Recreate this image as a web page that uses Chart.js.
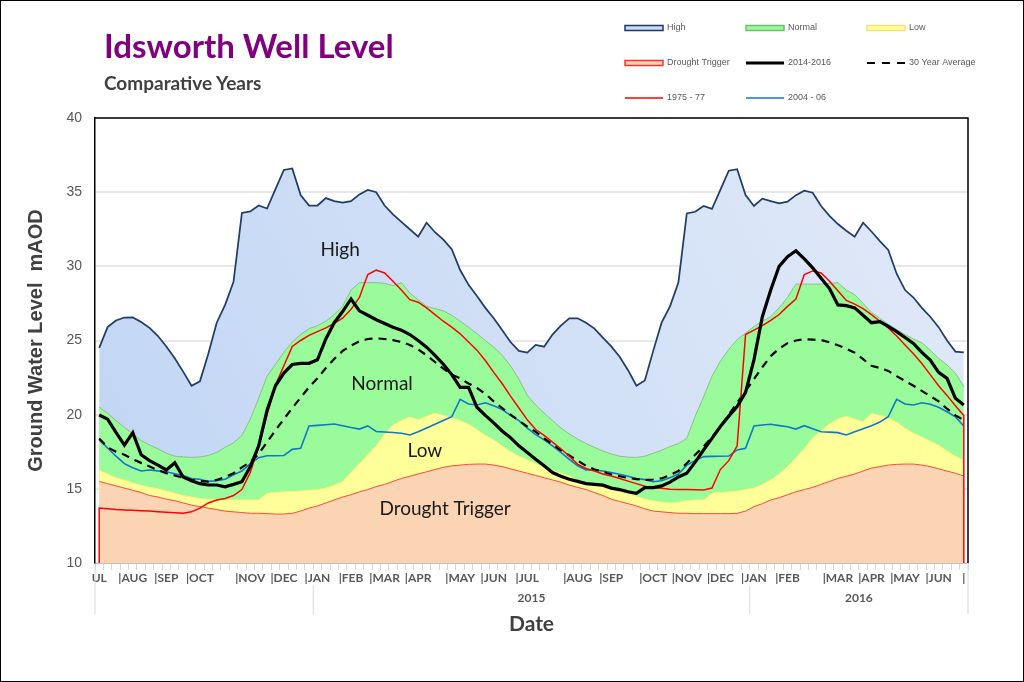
<!DOCTYPE html>
<html>
<head>
<meta charset="utf-8">
<script src="https://cdn.jsdelivr.net/npm/chart.js@4.4.0/dist/chart.umd.min.js"></script>
<style>
  html, body { margin: 0; padding: 0; background: #fff; }
  #wrap { position: relative; width: 1024px; height: 682px; overflow: hidden; }
  #wrap canvas { position: absolute; left: 0; top: 0; }
  #frame { position: absolute; left: 0; top: 0; width: 1024px; height: 682px; box-sizing: border-box; border: 1px solid #000; pointer-events: none; }
  #title { position: absolute; left: 104px; top: 25px; font: bold 33px Lato, sans-serif; color: #800080; white-space: nowrap; }
  #subtitle { position: absolute; left: 104px; top: 71px; font: bold 19px Lato, sans-serif; color: #404040; white-space: nowrap; }
</style>
</head>
<body>
<div id="wrap">
  <canvas id="chart" width="1024" height="682"></canvas>
  <div id="title">Idsworth Well Level</div>
  <div id="subtitle">Comparative Years</div>
  <div id="frame"></div>
</div>
<script>
// weekly readings, early July 2014 to end of June 2016
var weekCount = 104;
var monthTickWeeks = [0, 4, 8, 12, 18, 22, 26, 30, 34, 38, 43, 47, 51, 57, 61, 66, 70, 74, 78, 82, 88, 92, 96, 100, 103];
var monthTickText = ['UL', '|AUG', '|SEP', '|OCT', '|NOV', '|DEC', '|JAN', '|FEB', '|MAR', '|APR', '|MAY', '|JUN', '|JUL',
  '|AUG', '|SEP', '|OCT', '|NOV', '|DEC', '|JAN', '|FEB', '|MAR', '|APR', '|MAY', '|JUN', '|'];
var yearLabels = ['2015', '2016'];
var yearFirstWeek = [26, 78];
var yearLastWeek = [77, 103];

// seasonal bands (top of each zone)
var high = [24.5, 25.9, 26.35, 26.55, 26.56, 26.25, 25.85, 25.3, 24.6, 23.8, 22.9, 21.95, 22.25,
  24.1, 26.2, 27.4, 28.96, 33.6, 33.7, 34.1, 33.9, 35.2, 36.5, 36.6, 34.8, 34.1,
  34.1, 34.6, 34.4, 34.3, 34.4, 34.85, 35.15, 35.0, 34.1, 33.5, 33.0, 32.5, 32.0,
  32.94, 32.3, 31.8, 31.15, 29.75, 28.75, 28.0, 27.2, 26.5, 25.7, 24.9, 24.3, 24.18,
  24.7, 24.58, 25.4, 26.0, 26.5, 26.5, 26.2, 25.8, 25.2, 24.6, 23.9, 23.0, 21.95,
  22.3, 24.3, 26.2, 27.3, 28.9, 33.57, 33.68, 34.07, 33.87, 35.15, 36.45, 36.55, 34.8,
  34.07, 34.56, 34.4, 34.25, 34.36, 34.8, 35.1, 34.96, 34.07, 33.4, 32.85, 32.4, 32.0,
  32.94, 32.35, 31.7, 31.1, 29.5, 28.4, 27.9, 27.2, 26.6, 25.9, 25.0, 24.25, 24.2];
var normal = [20.5, 20.1, 19.6, 19.15, 18.7, 18.25, 17.95, 17.7, 17.4, 17.2, 17.15, 17.12, 17.15,
  17.25, 17.45, 17.8, 18.1, 18.6, 19.7, 21.1, 22.6, 23.4, 24.2, 24.9, 25.4, 25.8,
  26.0, 26.3, 26.75, 27.3, 28.4, 28.9, 28.9, 28.9, 28.85, 28.7, 28.9, 28.2, 27.75,
  27.3, 27.15, 27.0, 26.7, 26.3, 25.9, 25.45, 25.0, 24.55, 24.0, 23.3, 22.4, 21.3,
  20.65, 20.1, 19.6, 19.1, 18.7, 18.35, 18.05, 17.8, 17.55, 17.35, 17.2, 17.13, 17.12,
  17.2, 17.4, 17.6, 17.85, 18.05, 18.4, 19.9, 21.2, 22.6, 23.6, 24.4, 25.05, 25.5,
  25.95, 26.3, 26.6, 27.2, 27.9, 28.8, 28.8, 28.8, 28.8, 28.85, 28.9, 28.4, 28.1,
  27.5, 26.9, 26.5, 26.1, 25.75, 25.4, 25.1, 24.85, 24.35, 23.8, 23.35, 22.8, 21.9];
var low = [16.25, 16.0, 15.75, 15.6, 15.4, 15.25, 15.1, 15.0, 14.85, 14.7, 14.55, 14.45, 14.35,
  14.3, 14.25, 14.25, 14.25, 14.25, 14.25, 14.25, 14.7, 14.75, 14.8, 14.82, 14.85, 14.9,
  14.95, 15.05, 15.25, 15.5, 16.1, 16.7, 17.3, 17.9, 18.7, 19.3, 19.6, 19.85, 19.65,
  19.9, 20.1, 19.95, 19.8, 19.6, 19.35, 19.0, 18.6, 18.3, 17.9, 17.5, 17.2, 16.95,
  16.7, 16.45, 16.25, 16.05, 15.85, 15.55, 15.4, 15.25, 15.1, 14.95, 14.8, 14.65, 14.5,
  14.3, 14.2, 14.1, 14.05, 14.1, 14.2, 14.25, 14.25, 14.7, 14.75, 14.8, 14.85, 14.95,
  15.05, 15.3, 15.6, 16.0, 16.5, 17.1, 17.7, 18.45, 18.9, 19.4, 19.7, 19.9, 19.7,
  19.53, 20.09, 19.95, 19.8, 19.5, 19.1, 18.75, 18.5, 18.2, 17.95, 17.55, 17.2, 16.95];
var drought = [15.5, 15.35, 15.2, 15.05, 14.9, 14.75, 14.55, 14.45, 14.3, 14.2, 14.05, 13.9, 13.8,
  13.7, 13.6, 13.5, 13.45, 13.4, 13.35, 13.35, 13.33, 13.3, 13.3, 13.35, 13.5, 13.7,
  13.85, 14.05, 14.25, 14.45, 14.6, 14.8, 14.95, 15.15, 15.3, 15.5, 15.7, 15.85, 16.0,
  16.15, 16.3, 16.45, 16.55, 16.6, 16.65, 16.67, 16.67, 16.6, 16.5, 16.35, 16.2, 16.05,
  15.9, 15.75, 15.6, 15.45, 15.25, 15.1, 14.95, 14.75, 14.55, 14.3, 14.15, 14.0, 13.85,
  13.65, 13.5, 13.45, 13.4, 13.35, 13.35, 13.33, 13.33, 13.33, 13.33, 13.33, 13.35, 13.5,
  13.8, 14.0, 14.25, 14.4, 14.6, 14.8, 14.95, 15.1, 15.3, 15.5, 15.7, 15.85, 16.0,
  16.2, 16.4, 16.5, 16.6, 16.65, 16.67, 16.67, 16.6, 16.5, 16.35, 16.2, 16.05, 15.87];

// recorded levels
var level2014 = [19.98, 19.7, 18.8, 17.95, 18.79, 17.3, 16.9, 16.6, 16.27, 16.76, 15.8, 15.55, 15.35,
  15.26, 15.26, 15.14, 15.3, 15.48, 16.5, 17.9, 20.3, 21.95, 22.8, 23.38, 23.46, 23.46,
  23.7, 25.1, 26.2, 26.95, 27.8, 27.0, 26.7, 26.4, 26.15, 25.9, 25.7, 25.4, 25.0,
  24.55, 24.0, 23.4, 22.7, 21.84, 21.84, 20.5, 19.95, 19.45, 18.9, 18.45, 17.9, 17.45,
  17.0, 16.55, 16.1, 15.85, 15.65, 15.5, 15.35, 15.3, 15.25, 15.05, 14.95, 14.8, 14.7,
  15.08, 15.08, 15.2, 15.45, 15.8, 16.05, 16.8, 17.62, 18.4, 19.2, 19.9, 20.55, 21.5,
  23.7, 26.6, 28.4, 30.0, 30.65, 31.05, 30.5, 29.9, 29.2, 28.5, 27.4, 27.35, 27.2,
  26.7, 26.2, 26.27, 25.95, 25.6, 25.2, 24.8, 24.2, 23.68, 22.85, 22.45, 21.1, 20.65];
var avg30 = [18.4, 17.8, 17.5, 17.3, 17.0, 16.75, 16.5, 16.25, 16.05, 15.9, 15.75, 15.6, 15.52,
  15.48, 15.6, 15.8, 16.05, 16.45, 16.8, 17.35, 18.15, 18.95, 19.7, 20.45, 21.15, 21.85,
  22.45, 23.15, 23.75, 24.3, 24.65, 24.95, 25.1, 25.15, 25.1, 25.03, 24.9, 24.7, 24.4,
  24.0, 23.55, 23.1, 22.7, 22.45, 22.1, 21.8, 21.4, 20.9, 20.45, 20.0, 19.6, 19.2,
  18.85, 18.4, 18.0, 17.6, 17.25, 16.9, 16.55, 16.3, 16.15, 15.97, 15.85, 15.73, 15.66,
  15.6, 15.63, 15.7, 15.93, 16.2, 16.72, 17.3, 17.85, 18.5, 19.2, 20.0, 20.8, 21.6,
  22.4, 23.2, 23.95, 24.45, 24.82, 25.0, 25.08, 25.06, 25.03, 24.88, 24.68, 24.45, 24.18,
  23.75, 23.3, 23.15, 22.95, 22.6, 22.27, 21.95, 21.6, 21.25, 20.9, 20.4, 19.95, 19.64];
var level1975 = [13.7, 13.65, 13.6, 13.57, 13.55, 13.52, 13.5, 13.46, 13.42, 13.38, 13.35, 13.45, 13.7,
  14.05, 14.25, 14.35, 14.55, 14.95, 16.1, 17.85, 20.0, 22.0, 23.3, 24.6, 25.0, 25.35,
  25.6, 25.85, 26.15, 26.5, 27.1, 27.9, 29.45, 29.75, 29.55, 29.0, 28.4, 27.75, 27.58,
  27.2, 26.75, 26.3, 25.9, 25.45, 24.9, 24.35, 23.65, 22.85, 22.1, 21.25, 20.45, 19.65,
  19.0, 18.6, 18.15, 17.7, 17.2, 16.65, 16.37, 16.2, 16.0, 15.86, 15.7, 15.52, 15.35,
  15.18, 15.08, 15.04, 14.98, 14.96, 14.96, 14.94, 14.92, 15.05, 16.3, 16.9, 17.9, 25.4,
  25.7, 26.0, 26.35, 26.75, 27.3, 27.8, 29.45, 29.69, 29.55, 29.0, 28.35, 27.7, 27.45,
  27.15, 26.75, 26.3, 25.85, 25.3, 24.7, 24.1, 23.45, 22.7, 21.95, 21.3, 20.6, 19.95];
var level1975Ends = 0; // the 1975-77 record falls to zero at both ends of the run
var level2004 = [18.3, 17.75, 17.2, 16.7, 16.42, 16.2, 16.27, 16.21, 16.15, 16.02, 15.9, 15.69, 15.65,
  15.5, 15.54, 15.65, 15.95, 16.2, 16.7, 17.1, 17.23, 17.23, 17.25, 17.66, 17.73, 19.24,
  19.28, 19.32, 19.37, 19.25, 19.13, 19.03, 19.24, 18.87, 18.83, 18.8, 18.75, 18.63, 18.85,
  19.1, 19.35, 19.6, 19.86, 21.03, 20.72, 20.65, 20.8, 20.6, 20.35, 19.95, 19.6, 19.1,
  18.65, 18.3, 17.9, 17.45, 16.98, 16.55, 16.27, 16.27, 16.2, 16.1, 15.98, 15.85, 15.7,
  15.62, 15.48, 15.55, 15.75, 16.0, 16.6, 16.9, 17.17, 17.19, 17.2, 17.21, 17.62, 17.73,
  19.24, 19.3, 19.35, 19.26, 19.18, 19.03, 19.26, 19.05, 18.85, 18.82, 18.79, 18.63, 18.85,
  19.05, 19.25, 19.5, 19.86, 21.03, 20.72, 20.65, 20.8, 20.7, 20.5, 20.2, 19.85, 19.24];

// zone names written inside the plot (week, level)
var zoneLabels = ['High', 'Normal', 'Low', 'Drought Trigger'];
var zoneLabelWeek = [28.7, 33.7, 38.8, 41.2];
var zoneLabelLevel = [31.1, 22.1, 17.55, 13.65];

var labels = [];
for (var i = 0; i < weekCount; i++) labels.push('');
monthTickWeeks.forEach(function (w, k) { labels[w] = monthTickText[k]; });

var points1975 = [{ x: 0, y: level1975Ends }];
level1975.forEach(function (v, k) { points1975.push({ x: k, y: v }); });
points1975.push({ x: weekCount - 1, y: level1975Ends });

var highFill = function (ctx) {
  var a = ctx.chart.chartArea;
  if (!a) return '#cfdff7';
  var g = ctx.chart.ctx.createLinearGradient(a.left, a.bottom, a.right, a.top);
  g.addColorStop(0, '#c0d5f4');
  g.addColorStop(1, '#e2eaf8');
  return g;
};

var legendCols = [625, 746, 867];
var legendRows = [28, 63, 98];

var wellDecor = {
  id: 'wellDecor',
  afterDatasetsDraw: function (chart) {
    var c = chart.ctx, x = chart.scales.x, y = chart.scales.y;
    c.save();
    c.fillStyle = '#1a1a1a';
    c.font = '19px Lato';
    c.textAlign = 'center';
    c.textBaseline = 'middle';
    zoneLabels.forEach(function (t, k) {
      c.fillText(t, x.getPixelForValue(zoneLabelWeek[k]), y.getPixelForValue(zoneLabelLevel[k]));
    });
    c.restore();
  },
  afterDraw: function (chart) {
    var c = chart.ctx, a = chart.chartArea, x = chart.scales.x;
    c.save();
    // top and right sides of the plot frame
    c.strokeStyle = '#000';
    c.lineWidth = 1.5;
    c.beginPath();
    c.moveTo(a.left, a.top);
    c.lineTo(a.right, a.top);
    c.lineTo(a.right, a.bottom);
    c.stroke();

    // year row
    var edge = function (w) { return (x.getPixelForValue(w) + x.getPixelForValue(w + 1)) / 2; };
    c.strokeStyle = '#d9d9d9';
    c.lineWidth = 1;
    c.beginPath();
    c.moveTo(edge(-1), a.bottom); c.lineTo(edge(-1), 614);
    c.moveTo(edge(weekCount - 1), a.bottom); c.lineTo(edge(weekCount - 1), 614);
    yearFirstWeek.forEach(function (w) {
      c.moveTo(edge(w - 1), 586); c.lineTo(edge(w - 1), 614);
    });
    c.stroke();
    c.fillStyle = '#595959';
    c.font = 'bold 12px Lato';
    c.textAlign = 'center';
    c.textBaseline = 'middle';
    yearLabels.forEach(function (t, k) {
      c.fillText(t, (edge(yearFirstWeek[k] - 1) + edge(yearLastWeek[k])) / 2, 598);
    });

    // legend
    c.textAlign = 'left';
    c.font = '9px "Liberation Sans"';
    chart.data.datasets.forEach(function (ds, k) {
      var lx = legendCols[k % 3], ly = legendRows[Math.floor(k / 3)];
      if (ds.fill) {
        c.setLineDash([]);
        c.fillStyle = ds.swatch;
        c.fillRect(lx, ly - 2.5, 38, 5);
        c.strokeStyle = ds.swatchBorder;
        c.lineWidth = 1.5;
        c.strokeRect(lx, ly - 2.5, 38, 5);
      } else {
        c.strokeStyle = ds.borderColor;
        c.lineWidth = ds.borderWidth;
        c.setLineDash(ds.borderDash ? [8, 7] : []);
        c.beginPath();
        c.moveTo(lx, ly);
        c.lineTo(lx + 38, ly);
        c.stroke();
      }
      c.setLineDash([]);
      c.fillStyle = '#595959';
      c.fillText(ds.label, lx + 42, ly);
    });
    c.restore();
  }
};

new Chart(document.getElementById('chart'), {
  type: 'line',
  data: {
    labels: labels,
    datasets: [
      { label: 'High', data: high, order: 8, fill: 'start', backgroundColor: highFill, borderColor: '#203e68', borderWidth: 1.75, swatch: '#c9dbf5', swatchBorder: '#1f3864' },
      { label: 'Normal', data: normal, order: 7, fill: 'start', backgroundColor: '#99fb99', borderColor: '#8cbf8c', borderWidth: 1, swatch: '#99fb99', swatchBorder: '#6fbf6f' },
      { label: 'Low', data: low, order: 6, fill: 'start', backgroundColor: '#ffff99', borderColor: '#fff07a', borderWidth: 1, swatch: '#ffff99', swatchBorder: '#f5e27a' },
      { label: 'Drought Trigger', data: drought, order: 5, fill: 'start', backgroundColor: '#fbd4b4', borderColor: '#ff4a33', borderWidth: 1, swatch: '#fbd4b4', swatchBorder: '#ff3030' },
      { label: '2014-2016', data: level2014, order: 1, fill: false, borderColor: '#000000', borderWidth: 3.2 },
      { label: '30 Year Average', data: avg30, order: 3, fill: false, borderColor: '#000000', borderWidth: 2.2, borderDash: [8, 6] },
      { label: '1975 - 77', data: points1975, parsing: false, order: 2, fill: false, borderColor: '#ff0000', borderWidth: 1.5 },
      { label: '2004 - 06', data: level2004, order: 4, fill: false, borderColor: '#1077c9', borderWidth: 1.6 }
    ]
  },
  options: {
    responsive: false,
    animation: false,
    events: [],
    layout: { padding: { top: 118, right: 56, bottom: 45, left: 0 } },
    elements: { point: { radius: 0 }, line: { tension: 0 } },
    plugins: { legend: { display: false }, tooltip: { enabled: false } },
    scales: {
      x: {
        offset: true,
        grid: { offset: true, drawOnChartArea: false, drawTicks: true, tickLength: 7, color: '#d9d9d9' },
        border: { display: true, color: '#bfbfbf' },
        ticks: { autoSkip: false, maxRotation: 0, minRotation: 0, padding: 1, color: '#595959', font: { family: 'Lato', weight: 'bold', size: 12 } },
        title: { display: true, text: 'Date', color: '#404040', padding: 0, font: { family: 'Lato', weight: 'bold', size: 21 } },
        afterFit: function (s) { s.height = 74; }
      },
      y: {
        min: 10,
        max: 40,
        ticks: { stepSize: 5, padding: 13, color: '#595959', font: { family: 'Liberation Sans', size: 14 } },
        grid: { color: '#e8e8e8', lineWidth: 2, drawTicks: false },
        border: { color: '#000000', width: 1.5 },
        title: { display: true, text: 'Ground Water Level  mAOD', color: '#404040', padding: { top: 24, bottom: 0 }, font: { family: 'Liberation Sans', weight: 'bold', size: 20 } },
        afterFit: function (s) { s.width = 95; }
      }
    }
  },
  plugins: [wellDecor]
});
</script>
</body>
</html>
